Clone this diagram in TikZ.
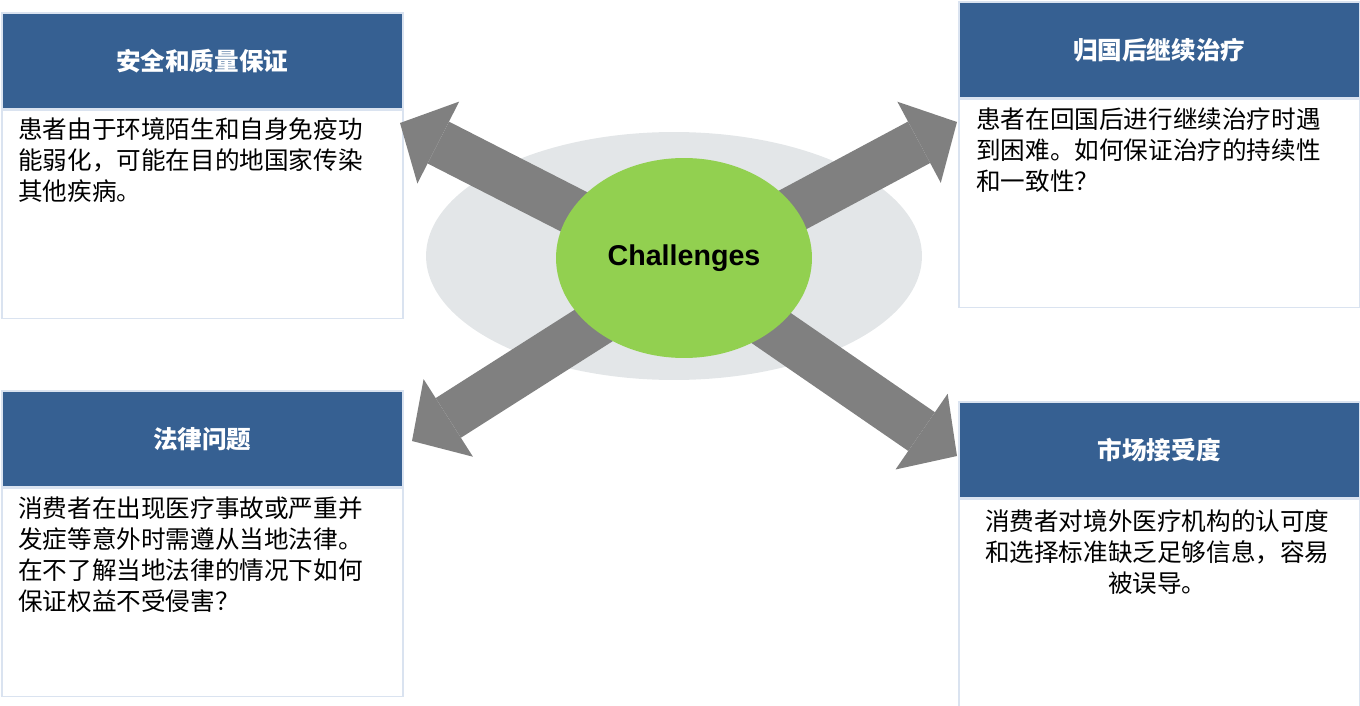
\documentclass[tikz,border=0pt]{standalone}
\usepackage{fontspec}
\usetikzlibrary{arrows.meta,positioning,shapes.geometric}
\newfontfamily\cjk{Noto Sans CJK SC}
\newfontfamily\latn{Liberation Sans}
\definecolor{headblue}{RGB}{54,96,146}
\definecolor{edgeblue}{RGB}{218,227,240}
\definecolor{ringgray}{RGB}{227,230,232}
\definecolor{hubgreen}{RGB}{146,208,80}
\definecolor{spokegray}{RGB}{128,128,128}

\begin{document}
\begin{tikzpicture}[x=.02cm,y=-.02cm,
  headbox/.style={draw=edgeblue,line width=.9pt,fill=headblue,minimum width=8.02cm,minimum height=1.92cm,inner sep=0pt,text=white,font=\cjk\bfseries\fontsize{14pt}{17pt}\selectfont},
  bodybox/.style={draw=edgeblue,line width=.9pt,fill=white,minimum width=8.02cm,minimum height=4.16cm,inner sep=0pt},
  bodytext/.style={inner sep=0pt,text width=7.1cm,align=left,font=\cjk\fontsize{14pt}{17.6pt}\selectfont},
  spoke/.style={spokegray,line width=.94cm,-{Triangle[width=1.84cm,length=.86cm,line width=0pt]}}]
\useasboundingbox (0,0) rectangle (1360,706);
% four boxes
\node[headbox,anchor=north west] (safehead) at (1,12) {安全和质量保证};
\node[bodybox,below=0pt of safehead] (safebody) {};
\node[bodytext,anchor=north west] (safetext) at ([shift={(17,8)}]safebody.north west) {患者由于环境陌生和自身免疫功\\能弱化，可能在目的地国家传染\\其他疾病。};
\node[headbox,anchor=north west] (carehead) at (958,1) {归国后继续治疗};
\node[bodybox,below=0pt of carehead] (carebody) {};
\node[bodytext,anchor=north west] (caretext) at ([shift={(18,9)}]carebody.north west) {患者在回国后进行继续治疗时遇\\到困难。如何保证治疗的持续性\\和一致性？};
\node[headbox,anchor=north west] (lawhead) at (1,390) {法律问题};
\node[bodybox,below=0pt of lawhead] (lawbody) {};
\node[bodytext,anchor=north west] (lawtext) at ([shift={(17,9)}]lawbody.north west) {消费者在出现医疗事故或严重并\\发症等意外时需遵从当地法律。\\在不了解当地法律的情况下如何\\保证权益不受侵害？};
\node[headbox,anchor=north west] (markhead) at (958,401) {市场接受度};
\node[bodybox,below=0pt of markhead] (markbody) {};
\node[bodytext,align=center,anchor=north] (marktext) at ([shift={(-2,11)}]markbody.north) {消费者对境外医疗机构的认可度\\和选择标准缺乏足够信息，容易\\被误导。};
% centre
\node[ellipse,fill=ringgray,minimum width=9.92cm,minimum height=4.96cm] (ring) at (674,256) {};
\coordinate (hub) at (684,268);
\coordinate (safetip) at (400,123);
\coordinate (caretip) at (957,122);
\coordinate (lawtip) at (412,441);
\coordinate (marktip) at (957,456);
\foreach \t in {safetip,caretip,lawtip,marktip}{\draw[spoke] (hub) -- (\t);}
\node[ellipse,fill=hubgreen,minimum width=5.12cm,minimum height=4cm,font=\latn\bfseries\fontsize{16.3pt}{18pt}\selectfont] (chal) at (684,258) {Challenges};
\end{tikzpicture}
\end{document}
